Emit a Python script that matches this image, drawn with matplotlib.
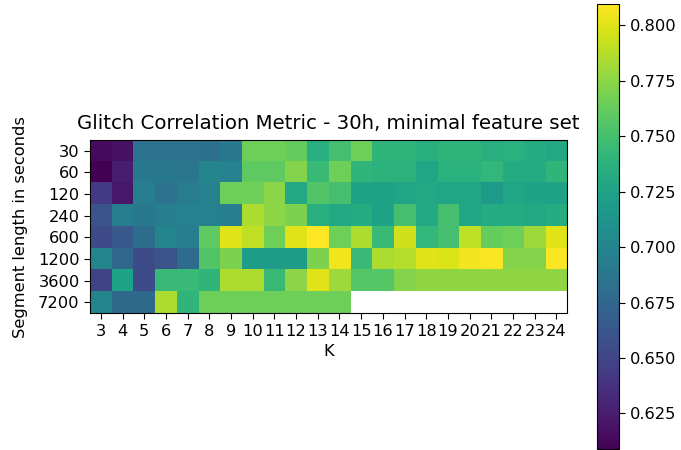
import numpy as np
import matplotlib
matplotlib.use("Agg")
import matplotlib.pyplot as plt

k_values = list(range(3, 25))
segment_lengths = ["30", "60", "120", "240", "600", "1200", "3600", "7200"]

row_30 = [0.615, 0.618, 0.685, 0.685, 0.685, 0.683, 0.690, 0.765, 0.765, 0.762, 0.735,
          0.750, 0.765, 0.740, 0.740, 0.735, 0.740, 0.740, 0.735, 0.737, 0.733, 0.730]
row_60 = [0.609, 0.625, 0.690, 0.690, 0.688, 0.700, 0.698, 0.760, 0.760, 0.772, 0.745,
          0.765, 0.740, 0.738, 0.738, 0.728, 0.737, 0.737, 0.742, 0.732, 0.732, 0.740]
row_120 = [0.643, 0.622, 0.695, 0.685, 0.693, 0.697, 0.765, 0.765, 0.775, 0.730, 0.755,
           0.750, 0.725, 0.725, 0.727, 0.730, 0.728, 0.727, 0.718, 0.728, 0.725, 0.725]
row_240 = [0.660, 0.695, 0.690, 0.695, 0.697, 0.697, 0.695, 0.785, 0.775, 0.770, 0.735,
           0.730, 0.733, 0.725, 0.750, 0.730, 0.750, 0.727, 0.732, 0.732, 0.730, 0.733]
row_600 = [0.655, 0.665, 0.680, 0.700, 0.695, 0.760, 0.800, 0.790, 0.765, 0.800, 0.8095,
           0.765, 0.785, 0.745, 0.795, 0.742, 0.750, 0.790, 0.762, 0.765, 0.780, 0.800]
row_1200 = [0.700, 0.675, 0.655, 0.660, 0.680, 0.755, 0.770, 0.720, 0.720, 0.720, 0.770,
            0.805, 0.745, 0.785, 0.787, 0.800, 0.798, 0.806, 0.808, 0.772, 0.772, 0.808]
row_3600 = [0.650, 0.725, 0.655, 0.745, 0.745, 0.740, 0.785, 0.785, 0.745, 0.775, 0.800,
            0.780, 0.757, 0.757, 0.772, 0.776, 0.776, 0.776, 0.776, 0.776, 0.776, 0.776]
row_7200 = [0.700, 0.678, 0.678, 0.785, 0.740, 0.765, 0.765, 0.765, 0.765, 0.765, 0.765,
            0.765, np.nan, np.nan, np.nan, np.nan, np.nan, np.nan, np.nan, np.nan, np.nan, np.nan]

data = np.array([row_30, row_60, row_120, row_240, row_600, row_1200, row_3600, row_7200])

plt.rcParams["font.size"] = 11.7
plt.rcParams["xtick.major.size"] = 4
plt.rcParams["ytick.major.size"] = 4

W, H = 681, 450
fig = plt.figure(figsize=(W / 100, H / 100), dpi=100)
ax = fig.add_axes([90 / W, 1 - 313.3 / H, 477.3 / W, 173.3 / H])
im = ax.imshow(data, cmap="viridis", aspect="auto", interpolation="nearest")
ax.set_xticks(range(len(k_values)))
ax.set_xticklabels([str(k) for k in k_values])
ax.set_yticks(range(len(segment_lengths)))
ax.set_yticklabels(segment_lengths)
ax.set_xlabel("K", fontsize=11.7)
ax.set_ylabel("Segment length in seconds", fontsize=11.7, labelpad=7)
ax.set_title("Glitch Correlation Metric - 30h, minimal feature set", fontsize=14.2, pad=8)

cax = fig.add_axes([596.7 / W, 1 - 449 / H, 22.6 / W, 445 / H])
fig.colorbar(im, cax=cax)

fig.savefig("out.png", dpi=100)
